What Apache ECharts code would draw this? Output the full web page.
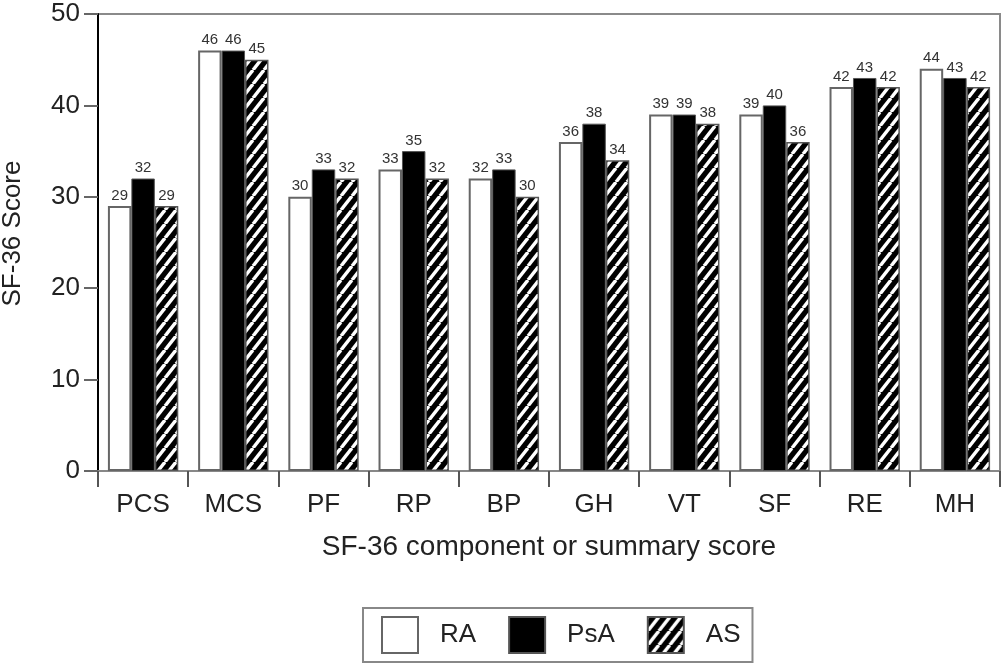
<!DOCTYPE html>
<html>
<head>
<meta charset="utf-8">
<script src="https://cdn.jsdelivr.net/npm/echarts@6/dist/echarts.min.js"></script>
<style>
html,body{margin:0;padding:0;background:#fff;}
#c{width:1004px;height:672px;}
</style>
</head>
<body>
<div id="c"></div>
<script>
const categories = ['PCS','MCS','PF','RP','BP','GH','VT','SF','RE','MH'];
const seriesNames = ['RA','PsA','AS'];
const raValues  = [29,46,30,33,32,36,39,39,42,44];
const psaValues = [32,46,33,35,33,38,39,40,43,43];
const asValues  = [29,45,32,32,30,34,38,36,42,42];
const yTicks = {min:0, max:50, interval:10};

function hatch(){
  const w = 11, h = 14;
  const cv = document.createElement('canvas');
  cv.width = w; cv.height = h;
  const ctx = cv.getContext('2d');
  ctx.fillStyle = '#000';
  ctx.fillRect(0,0,w,h);
  ctx.strokeStyle = '#fff';
  ctx.lineWidth = 3.4;
  for (const o of [-w, 0, w]) {
    ctx.beginPath();
    ctx.moveTo(o, h);
    ctx.lineTo(o + w, 0);
    ctx.stroke();
  }
  return cv;
}

const font = 'Liberation Sans, Arial, sans-serif';
const lbl = {show:true, position:'top', fontSize:15, color:'#333', fontFamily:font, distance:3};

const chart = echarts.init(document.getElementById('c'), null, {renderer:'canvas'});
chart.setOption({
  animation:false,
  textStyle:{fontFamily:font},
  grid:{left:98, right:4, top:14, bottom:201, containLabel:false, outerBoundsMode:'none',
        show:true, borderColor:'#8a8a8a', borderWidth:2, backgroundColor:'transparent'},
  legend:{
    data:seriesNames, left:363, top:608, orient:'horizontal',
    itemWidth:36, itemHeight:36, itemGap:32,
    borderColor:'#888', borderWidth:2, padding:[8,12,8,18],
    textStyle:{fontSize:26, color:'#222', fontFamily:font, padding:[0,0,0,17]},
    icon:'rect'
  },
  xAxis:{
    type:'category', data:categories,
    axisLine:{lineStyle:{color:'#888', width:2}},
    axisTick:{show:true, length:16, alignWithLabel:false, lineStyle:{color:'#555', width:2}},
    axisLabel:{fontSize:26, color:'#222', margin:21, fontFamily:font},
    name:'SF-36 component or summary score', nameLocation:'middle', nameGap:62,
    nameTextStyle:{fontSize:28, color:'#222', fontFamily:font}
  },
  yAxis:{
    type:'value', min:yTicks.min, max:yTicks.max, interval:yTicks.interval,
    axisLine:{show:true, lineStyle:{color:'#000', width:2}},
    axisTick:{show:true, length:14, lineStyle:{color:'#666', width:2}},
    axisLabel:{fontSize:26, color:'#222', margin:18, fontFamily:font},
    splitLine:{show:false},
    name:'SF-36 Score', nameLocation:'middle', nameGap:72, nameRotate:90,
    nameTextStyle:{fontSize:26, color:'#222', fontFamily:font, padding:[0,0,0,18]}
  },
  series:[
    {name:seriesNames[0], type:'bar', data:raValues, barGap:'0%', barCategoryGap:'22%',
     itemStyle:{color:'#fff', borderColor:'#666', borderWidth:2}, label:lbl},
    {name:seriesNames[1], type:'bar', data:psaValues, barGap:'0%', barCategoryGap:'22%',
     itemStyle:{color:'#000', borderColor:'#555', borderWidth:1}, label:lbl},
    {name:seriesNames[2], type:'bar', data:asValues, barGap:'0%', barCategoryGap:'22%',
     itemStyle:{color:{image:hatch(), repeat:'repeat'}, borderColor:'#555', borderWidth:1.5}, label:lbl}
  ]
});
</script>
</body>
</html>
